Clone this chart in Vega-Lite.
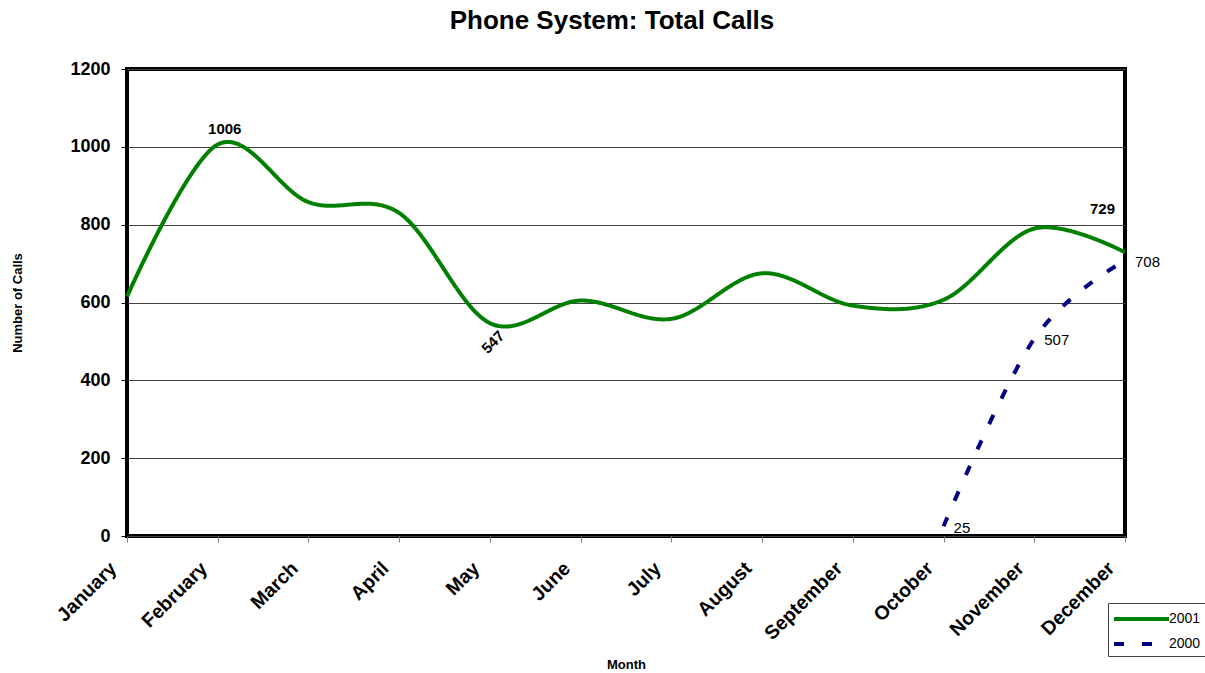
{
  "$schema": "https://vega.github.io/schema/vega-lite/v6.json",
  "width": 998,
  "height": 467,
  "autosize": {"type": "none"},
  "padding": {"left": 127, "top": 69, "right": 80, "bottom": 137},
  "background": "white",
  "config": {
    "font": "Liberation Sans",
    "view": {"stroke": "black", "strokeWidth": 4},
    "legend": {
      "orient": "none",
      "legendX": 981,
      "legendY": 534,
      "padding": 4,
      "strokeColor": "#444444",
      "fillColor": "white",
      "symbolType": "M-1,0H4.5",
      "symbolSize": 400,
      "symbolStrokeWidth": 4,
      "labelFontSize": 14,
      "labelFont": "Liberation Sans",
      "labelColor": "black",
      "labelOffset": 33,
      "rowPadding": 5
    }
  },
  "title": {
    "text": "Phone System: Total Calls",
    "fontSize": 26,
    "fontWeight": "bold",
    "color": "black",
    "font": "Liberation Sans",
    "anchor": "middle",
    "dx": -14,
    "offset": 26
  },
  "data": {
    "values": [
      {"month": "January", "series": "2001", "calls": 615},
      {"month": "February", "series": "2001", "calls": 1006},
      {"month": "March", "series": "2001", "calls": 858},
      {"month": "April", "series": "2001", "calls": 830},
      {"month": "May", "series": "2001", "calls": 547},
      {"month": "June", "series": "2001", "calls": 605},
      {"month": "July", "series": "2001", "calls": 558},
      {"month": "August", "series": "2001", "calls": 675},
      {"month": "September", "series": "2001", "calls": 592},
      {"month": "October", "series": "2001", "calls": 607},
      {"month": "November", "series": "2001", "calls": 790},
      {"month": "December", "series": "2001", "calls": 729},
      {"month": "October", "series": "2000", "calls": 25},
      {"month": "November", "series": "2000", "calls": 507},
      {"month": "December", "series": "2000", "calls": 708}
    ]
  },
  "encoding": {
    "x": {
      "field": "month",
      "type": "ordinal",
      "sort": ["January", "February", "March", "April", "May", "June", "July", "August", "September", "October", "November", "December"],
      "scale": {"type": "point", "padding": 0},
      "axis": {
        "title": "Month",
        "titleFontSize": 13,
        "titleFontWeight": "bold",
        "titleColor": "black",
        "titleX": 499,
        "titleY": 128,
        "titleBaseline": "middle",
        "labelAngle": -45,
        "labelAlign": "right",
        "labelBaseline": "middle",
        "labelFontSize": 19.5,
        "labelFontWeight": "bold",
        "labelColor": "black",
        "labelOffset": -14,
        "labelPadding": 23,
        "tickSize": 6,
        "tickColor": "#808080",
        "domain": false,
        "grid": false
      }
    },
    "y": {
      "field": "calls",
      "type": "quantitative",
      "scale": {"domain": [0, 1200]},
      "axis": {
        "title": "Number of Calls",
        "titleFontSize": 13,
        "titleFontWeight": "bold",
        "titleColor": "black",
        "titleX": -110,
        "titleY": 233.5,
        "titleAngle": -90,
        "titleAlign": "center",
        "titleBaseline": "middle",
        "values": [0, 200, 400, 600, 800, 1000, 1200],
        "format": "d",
        "labelFontSize": 18,
        "labelFontWeight": "bold",
        "labelColor": "black",
        "labelPadding": 11,
        "tickSize": 6,
        "tickColor": "black",
        "domain": false,
        "grid": true,
        "gridColor": "#404040",
        "gridWidth": 1
      }
    }
  },
  "layer": [
    {
      "mark": {"type": "line", "interpolate": "cardinal", "tension": 0, "strokeWidth": 4, "strokeCap": "butt"},
      "encoding": {
        "color": {
          "field": "series",
          "type": "nominal",
          "scale": {"domain": ["2001", "2000"], "range": ["#008000", "#000080"]},
          "legend": {"title": null}
        },
        "strokeDash": {
          "field": "series",
          "type": "nominal",
          "scale": {"domain": ["2001", "2000"], "range": [[1, 0], [10, 18]]},
          "legend": {"title": null}
        }
      }
    },
    {
      "transform": [{"filter": "datum.series == '2001' && datum.month == 'February'"}],
      "mark": {"type": "text", "fontSize": 15, "fontWeight": "bold", "color": "black", "dx": 7, "dy": -15.5, "align": "center", "baseline": "middle"},
      "encoding": {"text": {"field": "calls", "type": "quantitative", "format": "d"}}
    },
    {
      "transform": [{"filter": "datum.series == '2001' && datum.month == 'May'"}],
      "mark": {"type": "text", "fontSize": 15, "fontWeight": "bold", "color": "black", "dx": -11.3, "dy": 15.6, "angle": -45, "align": "center", "baseline": "middle"},
      "encoding": {"text": {"field": "calls", "type": "quantitative", "format": "d"}}
    },
    {
      "transform": [{"filter": "datum.series == '2001' && datum.month == 'December'"}],
      "mark": {"type": "text", "fontSize": 15, "fontWeight": "bold", "color": "black", "dx": -22.5, "dy": -43, "align": "center", "baseline": "middle"},
      "encoding": {"text": {"field": "calls", "type": "quantitative", "format": "d"}}
    },
    {
      "transform": [{"filter": "datum.series == '2000'"}],
      "mark": {"type": "text", "fontSize": 15, "color": "black", "dx": 10, "dy": 1.5, "align": "left", "baseline": "middle"},
      "encoding": {"text": {"field": "calls", "type": "quantitative", "format": "d"}}
    }
  ]
}
